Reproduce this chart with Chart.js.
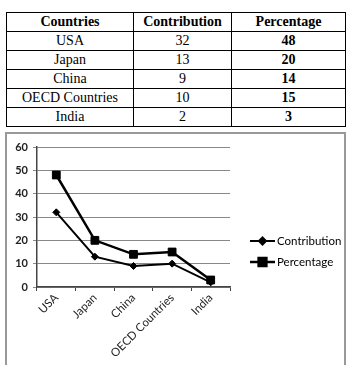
<!DOCTYPE html>
<html>
<head>
<meta charset="utf-8">
<script src="https://cdn.jsdelivr.net/npm/chart.js@4"></script>
<style>
    body { margin: 0; background: #fff; width: 347px; height: 365px; overflow: hidden; position: relative; }
    table { position: absolute; left: 6px; top: 12px; border-collapse: collapse; font-family: "Liberation Serif", "Times New Roman", serif; font-size: 14px; }
    td, th { border: 1px solid #000; text-align: center; padding: 0; height: 18px; line-height: 18px; }
    th { font-weight: bold; }
    td.pct { font-weight: bold; }
    #chartBox { position: absolute; left: 5px; top: 132px; width: 341px; height: 240px; border: 2px solid #999; box-sizing: border-box; }
    #chartBox canvas { position: absolute; left: 0; top: 0; }
</style>
</head>
<body>
<table>
    <thead><tr><th style="width:126px">Countries</th><th style="width:97px">Contribution</th><th style="width:113px">Percentage</th></tr></thead>
    <tbody id="tabla"></tbody>
</table>
<div id="chartBox"><canvas id="grafico" width="337" height="236"></canvas></div>
<script>
const paises = ['USA', 'Japan', 'China', 'OECD Countries', 'India'];
const contribucion = [32, 13, 9, 10, 2];
const porcentaje = [48, 20, 14, 15, 3];
const ticksY = [0, 10, 20, 30, 40, 50, 60];

// tabla de arriba
const tabla = document.getElementById('tabla');
paises.forEach((p, i) => {
    const tr = document.createElement('tr');
    tr.innerHTML = `<td>${p}</td><td>${contribucion[i]}</td><td class="pct">${porcentaje[i]}</td>`;
    tabla.appendChild(tr);
});

// leyenda a la derecha, linea + marcador como en Excel
const leyendaExcel = {
    id: 'leyendaExcel',
    afterDraw(chart) {
        const ctx = chart.ctx;
        const x0 = 243, x1 = 268;
        const ys = [107, 128];
        chart.data.datasets.forEach((ds, i) => {
            const y = ys[i];
            ctx.save();
            ctx.strokeStyle = ds.borderColor;
            ctx.lineWidth = ds.borderWidth;
            ctx.beginPath();
            ctx.moveTo(x0, y);
            ctx.lineTo(x1, y);
            ctx.stroke();
            Chart.helpers.drawPoint(ctx, {pointStyle: ds.pointStyle, radius: ds.pointRadius, borderWidth: 1}, (x0 + x1) / 2, y);
            ctx.fillStyle = '#000';
            ctx.font = '11.5px Lato';
            ctx.textBaseline = 'middle';
            ctx.fillText(ds.label, x1 + 2, y);
            ctx.restore();
        });
    }
};

new Chart(document.getElementById('grafico'), {
    type: 'line',
    data: {
        labels: paises,
        datasets: [
            {
                label: 'Contribution',
                data: contribucion,
                borderColor: '#000',
                backgroundColor: '#000',
                borderWidth: 2,
                pointStyle: 'rectRot',
                pointRadius: 3.5,
                pointBorderWidth: 1,
                tension: 0
            },
            {
                label: 'Percentage',
                data: porcentaje,
                borderColor: '#000',
                backgroundColor: '#000',
                borderWidth: 2.5,
                pointStyle: 'rect',
                pointRadius: 5.5,
                pointBorderWidth: 1,
                tension: 0
            }
        ]
    },
    options: {
        responsive: false,
        animation: false,
        layout: { padding: { top: 13, right: 114, left: 0, bottom: 0 } },
        plugins: { legend: { display: false }, tooltip: { enabled: false } },
        scales: {
            x: {
                offset: true,
                grid: { drawOnChartArea: false, tickLength: 4, color: '#444', offset: true },
                border: { color: '#444', width: 1.5 },
                ticks: { maxRotation: 45, minRotation: 45, color: '#222', font: { family: 'Lato', size: 11.5 }, padding: 0 },
                afterFit(scale) { scale.height = 83; }
            },
            y: {
                min: 0,
                max: 60,
                afterBuildTicks(scale) { scale.ticks = ticksY.map(v => ({ value: v })); },
                grid: { color: '#888', lineWidth: 1, tickLength: 4 },
                border: { color: '#444', width: 1.5 },
                ticks: { color: '#222', font: { family: 'Lato', size: 11, weight: 'bold' }, padding: 5 },
                afterFit(scale) { scale.width = 30; }
            }
        }
    },
    plugins: [leyendaExcel]
});
</script>
</body>
</html>
